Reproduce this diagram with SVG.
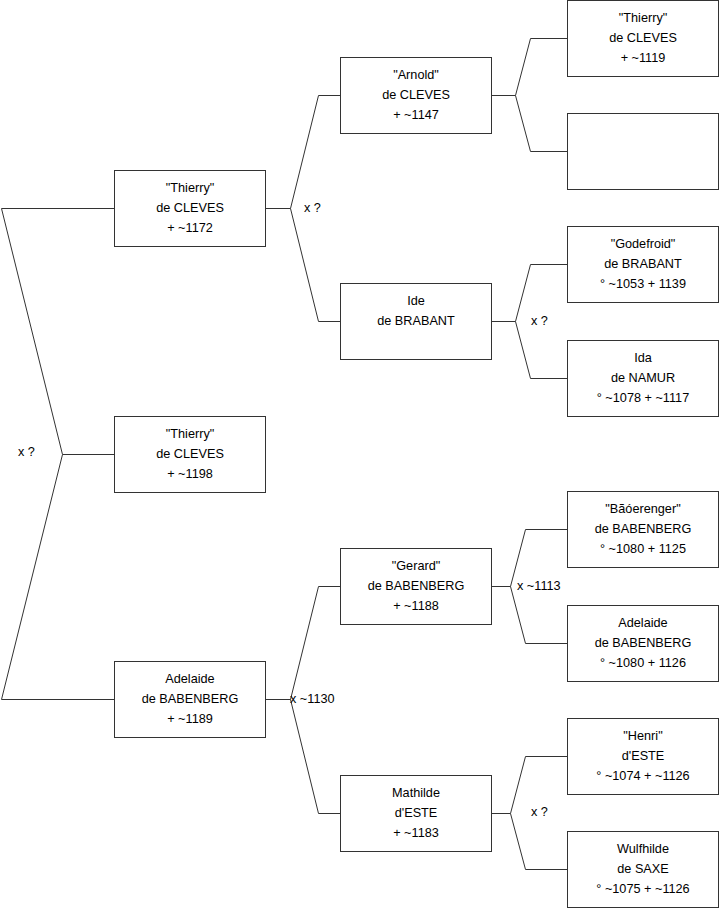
<svg xmlns="http://www.w3.org/2000/svg" width="719" height="908" viewBox="0 0 719 908">
<style>
.box{fill:#fff;stroke:#333;stroke-width:1}
.t{font-family:"Liberation Sans",Arial,sans-serif;font-size:12.7px;fill:#000;text-anchor:middle}
.l{font-family:"Liberation Sans",Arial,sans-serif;font-size:12.7px;fill:#000}
.c{fill:none;stroke:#333;stroke-width:1}
</style>
<rect width="719" height="908" fill="#fff"/>
<g id="connectors">
<path class="c" d="M114.5 208.5 H1.5 L62.5 454.5 L1.5 699.5 H114.5 M62.5 454.5 H114.5"/>
<path class="c" d="M265.5 208.5 H290.5 M340.5 95.5 H318.5 L290.5 208.5 L318.5 321.5 H340.5"/>
<path class="c" d="M491.5 95.5 H515.5 M567.5 38.5 H530.5 L515.5 95.5 L530.5 151.5 H567.5"/>
<path class="c" d="M491.5 321.5 H515.5 M567.5 264.5 H530.5 L515.5 321.5 L530.5 378.5 H567.5"/>
<path class="c" d="M265.5 699.5 H290.5 M340.5 586.5 H318.5 L290.5 699.5 L318.5 813.5 H340.5"/>
<path class="c" d="M491.5 586.5 H510.5 M567.5 529.5 H525.5 L510.5 586.5 L525.5 643.5 H567.5"/>
<path class="c" d="M491.5 813.5 H510.5 M567.5 756.5 H525.5 L510.5 813.5 L525.5 869.5 H567.5"/>
<text class="l" x="18" y="456">x ?</text>
<text class="l" x="304" y="212">x ?</text>
<text class="l" x="531" y="325">x ?</text>
<text class="l" x="290" y="703">x ~1130</text>
<text class="l" x="517" y="590">x ~1113</text>
<text class="l" x="531" y="816">x ?</text>
</g>
<g id="n1"><rect class="box" x="114.5" y="170.5" width="151" height="76"/><text class="t" x="190" y="191.5">"Thierry"</text><text class="t" x="190" y="211.5">de CLEVES</text><text class="t" x="190" y="231.5">+ ~1172</text></g>
<g id="n2"><rect class="box" x="114.5" y="416.5" width="151" height="76"/><text class="t" x="190" y="437.5">"Thierry"</text><text class="t" x="190" y="457.5">de CLEVES</text><text class="t" x="190" y="477.5">+ ~1198</text></g>
<g id="n3"><rect class="box" x="114.5" y="661.5" width="151" height="76"/><text class="t" x="190" y="682.5">Adelaide</text><text class="t" x="190" y="702.5">de BABENBERG</text><text class="t" x="190" y="722.5">+ ~1189</text></g>
<g id="n4"><rect class="box" x="340.5" y="57.5" width="151" height="76"/><text class="t" x="416" y="78.5">"Arnold"</text><text class="t" x="416" y="98.5">de CLEVES</text><text class="t" x="416" y="118.5">+ ~1147</text></g>
<g id="n5"><rect class="box" x="340.5" y="283.5" width="151" height="76"/><text class="t" x="416" y="305">Ide</text><text class="t" x="416" y="325">de BRABANT</text></g>
<g id="n6"><rect class="box" x="340.5" y="548.5" width="151" height="76"/><text class="t" x="416" y="569.5">"Gerard"</text><text class="t" x="416" y="589.5">de BABENBERG</text><text class="t" x="416" y="609.5">+ ~1188</text></g>
<g id="n7"><rect class="box" x="340.5" y="775.5" width="151" height="76"/><text class="t" x="416" y="796.5">Mathilde</text><text class="t" x="416" y="816.5">d'ESTE</text><text class="t" x="416" y="836.5">+ ~1183</text></g>
<g id="n8"><rect class="box" x="567.5" y="0.5" width="151" height="76"/><text class="t" x="643" y="21.5">"Thierry"</text><text class="t" x="643" y="41.5">de CLEVES</text><text class="t" x="643" y="61.5">+ ~1119</text></g>
<g id="n9"><rect class="box" x="567.5" y="113.5" width="151" height="76"/></g>
<g id="n10"><rect class="box" x="567.5" y="226.5" width="151" height="76"/><text class="t" x="643" y="247.5">"Godefroid"</text><text class="t" x="643" y="267.5">de BRABANT</text><text class="t" x="643" y="287.5">° ~1053 + 1139</text></g>
<g id="n11"><rect class="box" x="567.5" y="340.5" width="151" height="76"/><text class="t" x="643" y="361.5">Ida</text><text class="t" x="643" y="381.5">de NAMUR</text><text class="t" x="643" y="401.5">° ~1078 + ~1117</text></g>
<g id="n12"><rect class="box" x="567.5" y="491.5" width="151" height="76"/><text class="t" x="643" y="512.5">"Bãóerenger"</text><text class="t" x="643" y="532.5">de BABENBERG</text><text class="t" x="643" y="552.5">° ~1080 + 1125</text></g>
<g id="n13"><rect class="box" x="567.5" y="605.5" width="151" height="76"/><text class="t" x="643" y="626.5">Adelaide</text><text class="t" x="643" y="646.5">de BABENBERG</text><text class="t" x="643" y="666.5">° ~1080 + 1126</text></g>
<g id="n14"><rect class="box" x="567.5" y="718.5" width="151" height="76"/><text class="t" x="643" y="739.5">"Henri"</text><text class="t" x="643" y="759.5">d'ESTE</text><text class="t" x="643" y="779.5">° ~1074 + ~1126</text></g>
<g id="n15"><rect class="box" x="567.5" y="831.5" width="151" height="76"/><text class="t" x="643" y="852.5">Wulfhilde</text><text class="t" x="643" y="872.5">de SAXE</text><text class="t" x="643" y="892.5">° ~1075 + ~1126</text></g>
</svg>
